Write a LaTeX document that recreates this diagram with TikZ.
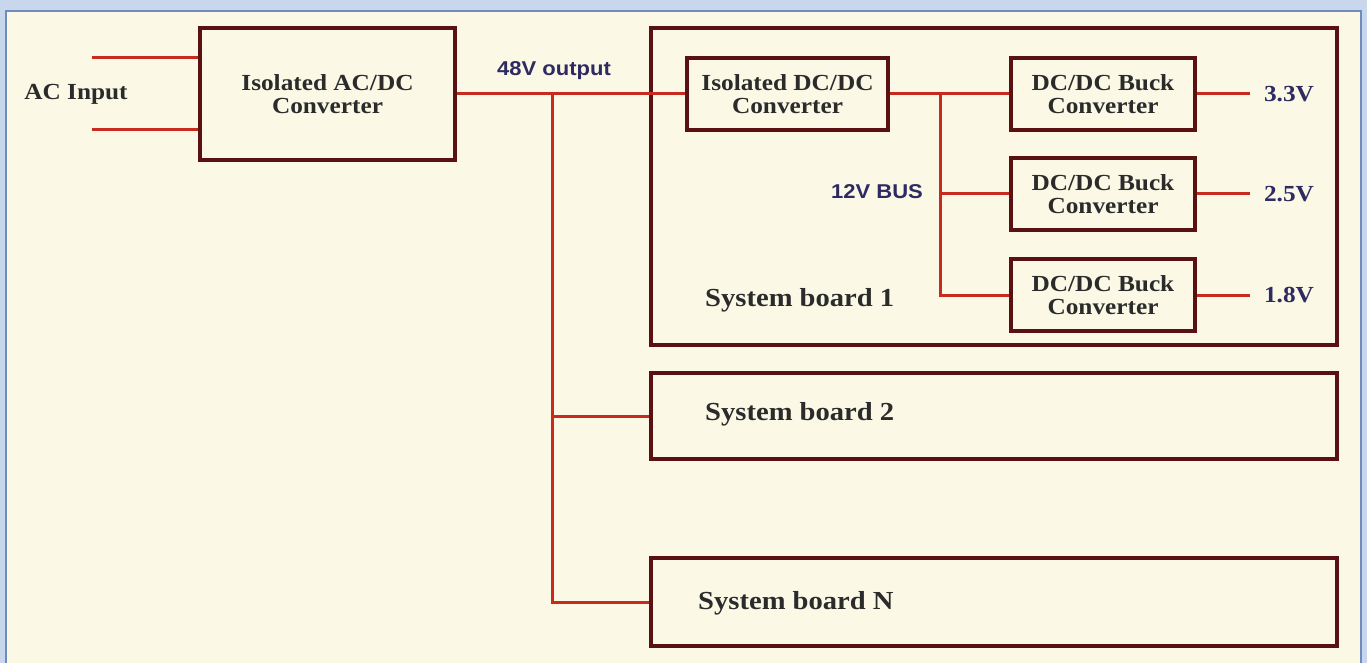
\documentclass[tikz,border=0pt]{standalone}
\usepackage{fontspec}
\setmainfont{Liberation Serif}[FakeStretch=1.1]
\newfontfamily\lblfont{Liberation Sans}[FakeStretch=1.1]
\usetikzlibrary{positioning,calc}
\definecolor{cFrame}{HTML}{C9D7EC}
\definecolor{cEdge} {HTML}{6E8CC2}
\definecolor{cPaper}{HTML}{FBF9E6}
\definecolor{cBox}  {HTML}{5A1111}
\definecolor{cWire} {HTML}{C82A1E}
\definecolor{cInk}  {HTML}{2B2B2B}
\definecolor{cNavy} {HTML}{2F2B62}
\tikzset{
  blk/.style   ={draw=cBox,fill=cPaper,line width=4.2pt,inner sep=0pt,align=center,
                 text=cInk,font=\fontsize{23}{23}\selectfont\bfseries},
  brd/.style   ={blk,minimum width=686pt},
  brdtxt/.style={text=cInk,font=\fontsize{26}{26}\selectfont\bfseries,anchor=west,inner sep=0pt},
  wire/.style  ={draw=cWire,line width=3pt},
  volt/.style  ={text=cNavy,font=\fontsize{23}{23}\selectfont\bfseries,inner sep=0pt},
  tag/.style   ={text=cNavy,font=\lblfont\fontsize{20}{20}\selectfont\bfseries,inner sep=0pt},
}

\begin{document}
\begin{tikzpicture}[x=1pt, y=-1pt]
\useasboundingbox (0,0) rectangle (1367,663);

% frame
\fill[cFrame] (0,0) rectangle (1367,663);
\fill[cPaper] (6,11) rectangle (1361,670);
\draw[cEdge,line width=2pt] (6,670) -- (6,11) -- (1361,11) -- (1361,670);

% boards
\node[brd,minimum height=317pt] (sb1) at (994,186.5) {};
\node[brd,minimum height=86pt]  (sb2) at (994,416) {};
\node[brd,minimum height=88pt]  (sbn) at (994,602) {};
\node[brdtxt] (sb1txt) at (705,300) {System board 1};
\node[brdtxt] (sb2txt) at (705,414) {System board 2};
\node[brdtxt] (sbntxt) at (698,603) {System board N};

% converters
\node[blk,minimum width=255pt,minimum height=132pt] (acdc) at (327.5,94)
  {Isolated AC/DC\\Converter};
\node[blk,minimum width=201pt,minimum height=72pt] (dcdc) at (787.5,94)
  {Isolated DC/DC\\Converter};
\foreach \i/\y/\v in {1/94/3.3V,2/194/2.5V,3/295/1.8V}{
  \node[blk,minimum width=184pt,minimum height=72pt] (buck\i) at (1103,\y)
    {DC/DC Buck\\Converter};
  \coordinate (out\i) at (1250,\y);
  \node[volt] (v\i) at (1289,\y) {\v};
}

% AC side
\node[volt,text=cInk] (acin) at (76,94) {AC Input};
\coordinate (acl1) at (92,58);
\coordinate (acl2) at (92,130);
\draw[wire] (acl1) -- (acl1 -| acdc.west);
\draw[wire] (acl2) -- (acl2 -| acdc.west);

% 48V distribution
\coordinate (j48) at (552,94);
\node[tag] (t48) at (554,71) {48V output};
\draw[wire] (acdc.east) -- (dcdc.west);
\draw[wire] (j48) -- (j48 |- sb2.west) -- (sb2.west);
\draw[wire] (j48) -- (j48 |- sbn.west) -- (sbn.west);

% 12V bus
\coordinate (bus) at (940,94);
\node[tag] (t12) at (877,192) {12V BUS};
\draw[wire] (dcdc.east) -- (buck1.west);
\draw[wire] (bus) -- (bus |- buck3.west) -- (buck3.west);
\draw[wire] (bus |- buck2.west) -- (buck2.west);
\foreach \i in {1,2,3}
  \draw[wire] (buck\i.east) -- (out\i);
\end{tikzpicture}
\end{document}
